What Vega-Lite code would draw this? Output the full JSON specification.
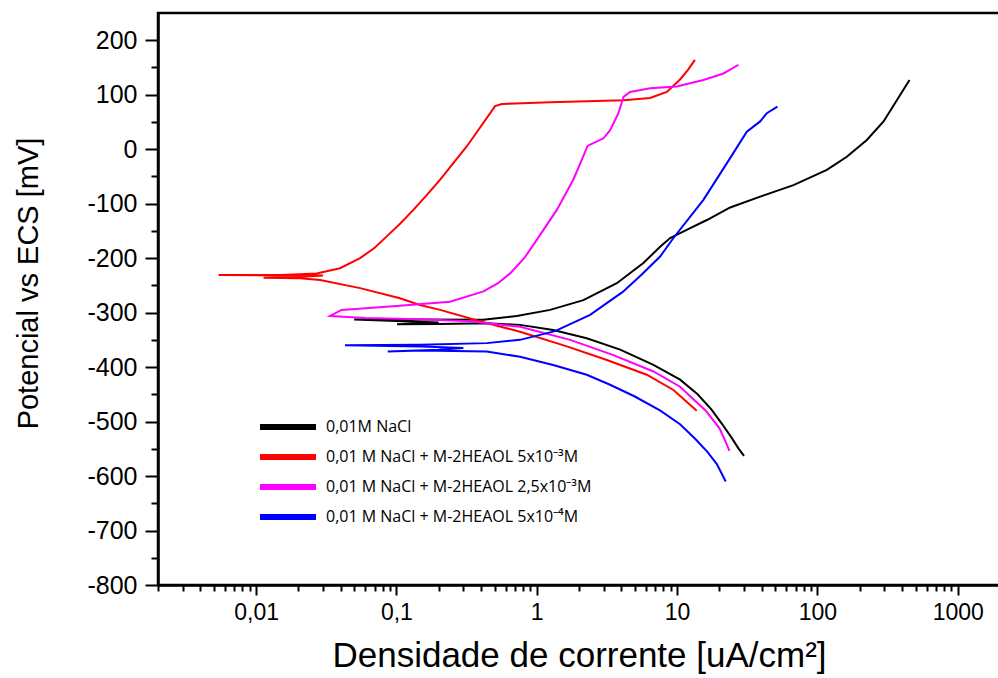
{
 "$schema": "https://vega.github.io/schema/vega-lite/v6.json",
 "width": 842,
 "height": 572,
 "autosize": "none",
 "padding": {"left": 158, "top": 13, "right": 0, "bottom": 93},
 "background": "white",
 "config": {
  "view": {"stroke": "black", "strokeWidth": 2.5},
  "axis": {"domainColor": "black", "domainWidth": 2.5, "tickColor": "black", "tickWidth": 2, "labelColor": "black", "titleColor": "black", "grid": false, "labelFont": "Liberation Sans", "titleFont": "Liberation Sans", "titleFontWeight": "normal"}
 },
 "datasets": {
  "names": [
   {"s": "A", "serie": "0,01M NaCl"},
   {"s": "B", "serie": "0,01 M NaCl + M-2HEAOL 5x10⁻³M"},
   {"s": "C", "serie": "0,01 M NaCl + M-2HEAOL 2,5x10⁻³M"},
   {"s": "D", "serie": "0,01 M NaCl + M-2HEAOL 5x10⁻⁴M"}
  ]
 },
 "data": {"values": [
  {"s":"A","i":1,"x":30.0,"y":-563},
  {"s":"A","i":2,"x":27.5,"y":-550},
  {"s":"A","i":3,"x":24.5,"y":-530},
  {"s":"A","i":4,"x":21.0,"y":-505},
  {"s":"A","i":5,"x":17.6,"y":-478},
  {"s":"A","i":6,"x":14.0,"y":-450},
  {"s":"A","i":7,"x":10.5,"y":-423},
  {"s":"A","i":8,"x":6.78,"y":-396},
  {"s":"A","i":9,"x":3.93,"y":-368},
  {"s":"A","i":10,"x":2.27,"y":-347},
  {"s":"A","i":11,"x":1.31,"y":-332},
  {"s":"A","i":12,"x":0.76,"y":-322.5},
  {"s":"A","i":13,"x":0.44,"y":-319.5},
  {"s":"A","i":14,"x":0.2,"y":-321},
  {"s":"A","i":15,"x":0.101,"y":-321.5},
  {"s":"A","i":16,"x":0.2,"y":-318},
  {"s":"A","i":17,"x":0.05,"y":-312.5},
  {"s":"A","i":18,"x":0.15,"y":-312.5},
  {"s":"A","i":19,"x":0.417,"y":-313},
  {"s":"A","i":20,"x":0.721,"y":-306},
  {"s":"A","i":21,"x":1.245,"y":-295},
  {"s":"A","i":22,"x":2.15,"y":-277},
  {"s":"A","i":23,"x":3.72,"y":-246},
  {"s":"A","i":24,"x":5.75,"y":-209},
  {"s":"A","i":25,"x":7.57,"y":-179},
  {"s":"A","i":26,"x":8.92,"y":-163},
  {"s":"A","i":27,"x":11.7,"y":-148},
  {"s":"A","i":28,"x":16.3,"y":-130},
  {"s":"A","i":29,"x":23.9,"y":-107},
  {"s":"A","i":30,"x":39.1,"y":-87},
  {"s":"A","i":31,"x":67.5,"y":-66},
  {"s":"A","i":32,"x":116.7,"y":-38},
  {"s":"A","i":33,"x":162,"y":-14},
  {"s":"A","i":34,"x":225,"y":17},
  {"s":"A","i":35,"x":296,"y":51},
  {"s":"A","i":36,"x":368,"y":90},
  {"s":"A","i":37,"x":453,"y":127},

  {"s":"B","i":1,"x":13.8,"y":-480},
  {"s":"B","i":2,"x":9.42,"y":-442},
  {"s":"B","i":3,"x":6.08,"y":-414},
  {"s":"B","i":4,"x":3.16,"y":-387},
  {"s":"B","i":5,"x":1.64,"y":-362},
  {"s":"B","i":6,"x":0.76,"y":-335},
  {"s":"B","i":7,"x":0.394,"y":-316},
  {"s":"B","i":8,"x":0.205,"y":-295},
  {"s":"B","i":9,"x":0.147,"y":-286},
  {"s":"B","i":10,"x":0.106,"y":-273.5},
  {"s":"B","i":11,"x":0.0551,"y":-255},
  {"s":"B","i":12,"x":0.0286,"y":-240},
  {"s":"B","i":13,"x":0.0206,"y":-237},
  {"s":"B","i":14,"x":0.0113,"y":-236},
  {"s":"B","i":15,"x":0.02,"y":-234.5},
  {"s":"B","i":16,"x":0.03,"y":-232},
  {"s":"B","i":17,"x":0.0054,"y":-231},
  {"s":"B","i":18,"x":0.015,"y":-231},
  {"s":"B","i":19,"x":0.027,"y":-228},
  {"s":"B","i":20,"x":0.0396,"y":-218.5},
  {"s":"B","i":21,"x":0.0551,"y":-200},
  {"s":"B","i":22,"x":0.07,"y":-181},
  {"s":"B","i":23,"x":0.0853,"y":-160},
  {"s":"B","i":24,"x":0.107,"y":-136},
  {"s":"B","i":25,"x":0.132,"y":-111.5},
  {"s":"B","i":26,"x":0.165,"y":-84},
  {"s":"B","i":27,"x":0.205,"y":-56},
  {"s":"B","i":28,"x":0.317,"y":5},
  {"s":"B","i":29,"x":0.505,"y":79},
  {"s":"B","i":30,"x":0.564,"y":83},
  {"s":"B","i":31,"x":1.245,"y":86},
  {"s":"B","i":32,"x":4.15,"y":90},
  {"s":"B","i":33,"x":6.42,"y":94},
  {"s":"B","i":34,"x":8.45,"y":105},
  {"s":"B","i":35,"x":10.5,"y":128},
  {"s":"B","i":36,"x":12.0,"y":146},
  {"s":"B","i":37,"x":13.4,"y":164},

  {"s":"C","i":1,"x":23.6,"y":-554},
  {"s":"C","i":2,"x":22.0,"y":-535},
  {"s":"C","i":3,"x":20.0,"y":-512},
  {"s":"C","i":4,"x":16.0,"y":-480},
  {"s":"C","i":5,"x":10.5,"y":-436},
  {"s":"C","i":6,"x":6.78,"y":-408},
  {"s":"C","i":7,"x":3.52,"y":-378},
  {"s":"C","i":8,"x":1.73,"y":-350},
  {"s":"C","i":9,"x":0.76,"y":-326},
  {"s":"C","i":10,"x":0.335,"y":-316},
  {"s":"C","i":11,"x":0.147,"y":-312},
  {"s":"C","i":12,"x":0.06,"y":-310},
  {"s":"C","i":13,"x":0.0337,"y":-306},
  {"s":"C","i":14,"x":0.0407,"y":-295},
  {"s":"C","i":15,"x":0.1,"y":-288},
  {"s":"C","i":16,"x":0.241,"y":-280},
  {"s":"C","i":17,"x":0.417,"y":-261},
  {"s":"C","i":18,"x":0.53,"y":-246},
  {"s":"C","i":19,"x":0.646,"y":-228},
  {"s":"C","i":20,"x":0.82,"y":-199},
  {"s":"C","i":21,"x":1.0,"y":-166.5},
  {"s":"C","i":22,"x":1.39,"y":-111.5},
  {"s":"C","i":23,"x":1.82,"y":-56},
  {"s":"C","i":24,"x":2.09,"y":-20},
  {"s":"C","i":25,"x":2.30,"y":6},
  {"s":"C","i":26,"x":2.53,"y":11},
  {"s":"C","i":27,"x":2.99,"y":20},
  {"s":"C","i":28,"x":3.33,"y":35},
  {"s":"C","i":29,"x":3.82,"y":66},
  {"s":"C","i":30,"x":4.15,"y":96},
  {"s":"C","i":31,"x":4.62,"y":105},
  {"s":"C","i":32,"x":6.42,"y":112},
  {"s":"C","i":33,"x":9.95,"y":115},
  {"s":"C","i":34,"x":15.4,"y":127},
  {"s":"C","i":35,"x":21.4,"y":139},
  {"s":"C","i":36,"x":27.4,"y":155},

  {"s":"D","i":1,"x":22.2,"y":-610},
  {"s":"D","i":2,"x":19.2,"y":-578},
  {"s":"D","i":3,"x":16.5,"y":-556},
  {"s":"D","i":4,"x":13.5,"y":-532},
  {"s":"D","i":5,"x":10.5,"y":-505},
  {"s":"D","i":6,"x":7.6,"y":-480},
  {"s":"D","i":7,"x":5.0,"y":-454},
  {"s":"D","i":8,"x":3.3,"y":-432},
  {"s":"D","i":9,"x":2.27,"y":-414},
  {"s":"D","i":10,"x":1.31,"y":-396},
  {"s":"D","i":11,"x":0.76,"y":-381},
  {"s":"D","i":12,"x":0.44,"y":-371.5},
  {"s":"D","i":13,"x":0.147,"y":-369.6},
  {"s":"D","i":14,"x":0.0867,"y":-371.5},
  {"s":"D","i":15,"x":0.2,"y":-368},
  {"s":"D","i":16,"x":0.3,"y":-365},
  {"s":"D","i":17,"x":0.15,"y":-362},
  {"s":"D","i":18,"x":0.043,"y":-360},
  {"s":"D","i":19,"x":0.147,"y":-359},
  {"s":"D","i":20,"x":0.44,"y":-356},
  {"s":"D","i":21,"x":0.76,"y":-350},
  {"s":"D","i":22,"x":1.35,"y":-334},
  {"s":"D","i":23,"x":2.4,"y":-304},
  {"s":"D","i":24,"x":4.1,"y":-262},
  {"s":"D","i":25,"x":5.6,"y":-230},
  {"s":"D","i":26,"x":7.57,"y":-197},
  {"s":"D","i":27,"x":9.42,"y":-163},
  {"s":"D","i":28,"x":15.4,"y":-93},
  {"s":"D","i":29,"x":22.6,"y":-26},
  {"s":"D","i":30,"x":31.4,"y":32},
  {"s":"D","i":31,"x":39.1,"y":51},
  {"s":"D","i":32,"x":43.6,"y":66},
  {"s":"D","i":33,"x":51.9,"y":78}
 ]},
 "transform": [
  {"lookup": "s", "from": {"data": {"name": "names"}, "key": "s", "fields": ["serie"]}}
 ],
 "mark": {"type": "line", "strokeWidth": 2, "clip": true},
 "encoding": {
  "x": {
   "field": "x", "type": "quantitative",
   "scale": {"type": "log", "domain": [0.002, 2000]},
   "axis": {
    "title": "Densidade de corrente [uA/cm²]",
    "titleFontSize": 35, "titlePadding": 14,
    "labelFontSize": 23, "labelPadding": 6,
    "values": [0.002,0.003,0.004,0.005,0.006,0.007,0.008,0.009,0.01,0.02,0.03,0.04,0.05,0.06,0.07,0.08,0.09,0.1,0.2,0.3,0.4,0.5,0.6,0.7,0.8,0.9,1,2,3,4,5,6,7,8,9,10,20,30,40,50,60,70,80,90,100,200,300,400,500,600,700,800,900,1000,2000],
    "labelExpr": "indexof([0.01,0.1,1,10,100,1000], datum.value) >= 0 ? replace(format(datum.value, '~g'), '.', ',') : ''",
    "tickSize": {"condition": {"test": "indexof([0.01,0.1,1,10,100,1000], datum.value) >= 0", "value": 10}, "value": 6},
    "labelFlush": false, "labelOverlap": false
   }
  },
  "y": {
   "field": "y", "type": "quantitative",
   "scale": {"domain": [-800, 250], "nice": false},
   "axis": {
    "title": "Potencial vs ECS [mV]",
    "titleFontSize": 29, "titlePadding": 43, "titleY": 270,
    "labelFontSize": 25, "labelPadding": 8,
    "values": [-800,-750,-700,-650,-600,-550,-500,-450,-400,-350,-300,-250,-200,-150,-100,-50,0,50,100,150,200],
    "labelExpr": "datum.value % 100 == 0 ? toString(datum.value) : ''",
    "tickSize": {"condition": {"test": "datum.value % 100 == 0", "value": 13}, "value": 7},
    "labelFlush": false, "labelOverlap": false
   }
  },
  "color": {
   "field": "serie", "type": "nominal",
   "scale": {
    "domain": ["0,01M NaCl", "0,01 M NaCl + M-2HEAOL 5x10⁻³M", "0,01 M NaCl + M-2HEAOL 2,5x10⁻³M", "0,01 M NaCl + M-2HEAOL 5x10⁻⁴M"],
    "range": ["#000000", "#ff0000", "#ff00ff", "#0000ff"]
   },
   "legend": {
    "orient": "none", "legendX": 113, "legendY": 397, "title": null,
    "symbolType": "M-2,0H2", "symbolStrokeWidth": 6, "symbolSize": 784,
    "labelFont": "Open Sans", "labelFontSize": 16, "labelColor": "black",
    "labelOffset": 21, "rowPadding": 1, "padding": 0, "labelLimit": 400
   }
  },
  "order": {"field": "i", "type": "quantitative"}
 }
}
